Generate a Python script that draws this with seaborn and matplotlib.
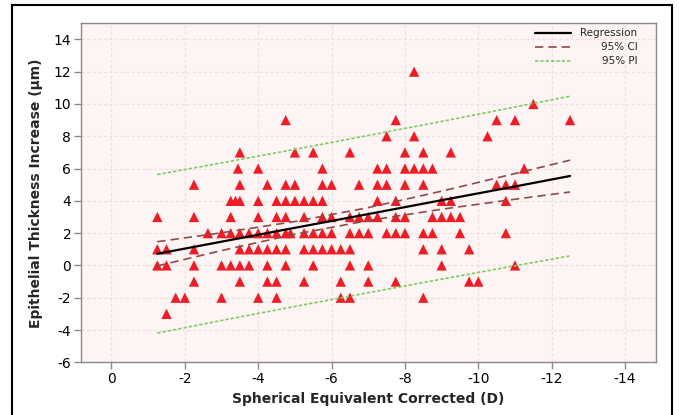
import numpy as np
import pandas as pd
import matplotlib
matplotlib.use("Agg")
import matplotlib.pyplot as plt
import seaborn as sns
from matplotlib.patches import Rectangle

# Epithelial thickness increase (um) by spherical equivalent corrected (D), read row by row
y_levels = [12, 10, 9, 8, 7, 6, 5, 4, 3, 2, 1, 0, -1, -2, -3]
x_by_level = [
    [-8.25],
    [-11.5],
    [-4.75, -7.75, -10.5, -11.0, -12.5],
    [-7.5, -8.25, -10.25],
    [-3.5, -5.0, -5.5, -6.5, -8.0, -8.5, -9.25],
    [-3.45, -4.0, -5.75, -7.25, -7.5, -8.0, -8.25, -8.5, -8.75, -11.25],
    [-2.25, -3.5, -4.25, -4.75, -5.0, -5.75, -6.0, -6.75, -7.25, -7.5, -8.0,
     -8.5, -10.5, -10.75, -11.0],
    [-3.25, -3.38, -3.5, -4.0, -4.5, -4.75, -5.0, -5.25, -5.5, -5.75, -7.25,
     -7.75, -9.0, -9.25, -10.75],
    [-1.25, -2.25, -3.25, -4.0, -4.5, -4.75, -5.25, -5.75, -6.0, -6.5, -6.75,
     -7.0, -7.25, -7.75, -8.0, -8.75, -9.0, -9.25, -9.5],
    [-2.63, -3.0, -3.25, -3.5, -3.75, -4.0, -4.25, -4.5, -4.75, -4.88, -5.25,
     -5.5, -5.75, -6.0, -6.5, -6.75, -7.0, -7.5, -7.75, -8.0, -8.5, -8.75,
     -9.5, -10.75],
    [-1.25, -1.5, -2.25, -3.5, -3.75, -4.0, -4.25, -4.5, -4.75, -5.25, -5.5,
     -5.75, -6.0, -6.25, -6.5, -8.5, -9.0, -9.75],
    [-1.25, -1.5, -2.25, -3.0, -3.25, -3.5, -3.75, -4.25, -4.75, -5.5, -6.5,
     -7.0, -9.0, -11.0],
    [-2.25, -3.5, -4.25, -4.5, -5.25, -6.25, -7.0, -7.75, -9.75, -10.0],
    [-1.75, -2.0, -3.0, -4.0, -4.5, -6.25, -6.5, -8.5],
    [-1.5],
]

# regression line and 95% bands at a few x stations
band_x = [-1.25, -3.0, -5.0, -7.0, -9.0, -11.0, -12.5]
reg_y = [0.72, 1.47, 2.33, 3.18, 4.04, 4.89, 5.54]
ci_hi = [1.47, 2.02, 2.72, 3.58, 4.60, 5.69, 6.52]
ci_lo = [-0.03, 0.92, 1.93, 2.78, 3.48, 4.10, 4.55]
pi_hi = [5.63, 6.35, 7.19, 8.05, 8.92, 9.81, 10.48]
pi_lo = [-4.19, -3.41, -2.54, -1.69, -0.85, -0.02, 0.59]

x_ticks = [0, -2, -4, -6, -8, -10, -12, -14]
y_ticks = [14, 12, 10, 8, 6, 4, 2, 0, -2, -4, -6]

rows = [(xv, yv) for yv, xs in zip(y_levels, x_by_level) for xv in xs]
df = pd.DataFrame(rows, columns=["se", "epi"])
bands = pd.DataFrame({"x": band_x, "reg": reg_y, "ci_hi": ci_hi, "ci_lo": ci_lo,
                      "pi_hi": pi_hi, "pi_lo": pi_lo})

REG_C = "black"
CI_C = "#8e4a4a"
PI_C = "#78cf5e"
CI_LS = (0, (5, 3))
PI_LS = (0, (2, 1.2))

sns.set_theme(style="white")
plt.rcParams["font.family"] = ["DejaVu Sans"]
plt.rcParams["axes.unicode_minus"] = False

fig = plt.figure(figsize=(6.79, 4.15), dpi=100)
ax = fig.add_axes([0.1193, 0.127, 0.8467, 0.817])
ax.set_facecolor("#fdf4f4")

sns.scatterplot(data=df, x="se", y="epi", marker="^", s=55, color="#ee1c25",
                edgecolor="none", ax=ax, zorder=3, legend=False)

ax.plot(bands["x"], bands["reg"], color=REG_C, lw=1.6, zorder=4)
ax.plot(bands["x"], bands["ci_hi"], color=CI_C, lw=1.2, ls=CI_LS, zorder=4)
ax.plot(bands["x"], bands["ci_lo"], color=CI_C, lw=1.2, ls=CI_LS, zorder=4)
ax.plot(bands["x"], bands["pi_hi"], color=PI_C, lw=1.2, ls=PI_LS, zorder=4)
ax.plot(bands["x"], bands["pi_lo"], color=PI_C, lw=1.2, ls=PI_LS, zorder=4)

ax.set_xlim(0.83, -14.84)
ax.set_ylim(-6, 15)
ax.set_xticks(x_ticks)
ax.set_yticks(y_ticks)
ax.grid(True, color="#f0dede", lw=0.8, ls=(0, (3, 2)))
for sp in ax.spines.values():
    sp.set_color("#8a8a8a")
    sp.set_linewidth(1.0)
ax.tick_params(axis="both", which="major", direction="out", length=5, width=1,
               color="#8a8a8a", labelsize=10, labelcolor="black", pad=2,
               bottom=True, left=True)

ax.set_xlabel("Spherical Equivalent Corrected (D)", fontsize=10, fontweight="bold",
              labelpad=4)
ax.set_ylabel("Epithelial Thickness Increase (μm)", fontsize=10, fontweight="bold",
              labelpad=8)

# legend with right aligned labels, as in the original
legend_rows = [("Regression", REG_C, "-", 1.6),
               ("95% CI", CI_C, CI_LS, 1.2),
               ("95% PI", PI_C, PI_LS, 1.2)]
for i, (lab, col, ls, lw) in enumerate(legend_rows):
    yy = 0.970 - i * 0.040
    ax.plot([0.790, 0.852], [yy, yy], transform=ax.transAxes, color=col, ls=ls,
            lw=lw, clip_on=False, zorder=5)
    ax.text(0.968, yy, lab, transform=ax.transAxes, ha="right", va="center",
            fontsize=7.5, zorder=5)

fig.patches.append(Rectangle((12 / 679, -5 / 415), 660 / 679, 415 / 415,
                             transform=fig.transFigure, fill=False,
                             edgecolor="black", lw=1.5))

fig.savefig("out.png", dpi=100)
